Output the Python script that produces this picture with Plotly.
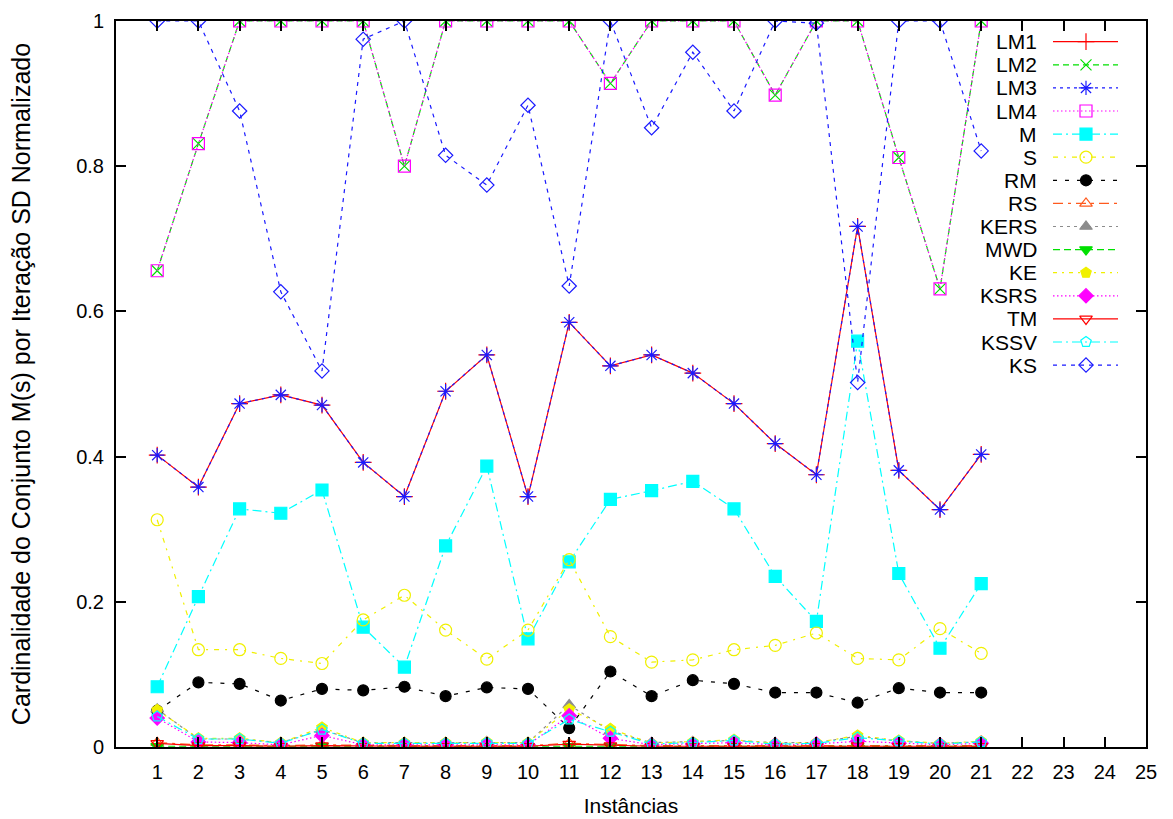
import plotly.graph_objects as go

# Instance indices (x axis)
instancias = list(range(1, 22))

# Normalised cardinality of M(s) per SD iteration, one list per method
LM1 = [0.402, 0.358, 0.473, 0.485, 0.471, 0.392, 0.345, 0.490, 0.540, 0.345, 0.585,
       0.525, 0.540, 0.515, 0.473, 0.418, 0.375, 0.717, 0.381, 0.327, 0.403]
LM2 = [0.656, 0.831, 1.0, 1.0, 1.0, 1.0, 0.800, 1.0, 1.0, 1.0, 1.0,
       0.914, 1.0, 1.0, 1.0, 0.898, 1.0, 1.0, 0.812, 0.631, 1.0]
LM3 = [0.402, 0.358, 0.473, 0.485, 0.471, 0.392, 0.345, 0.490, 0.540, 0.345, 0.585,
       0.525, 0.540, 0.515, 0.473, 0.418, 0.375, 0.717, 0.381, 0.327, 0.403]
LM4 = [0.656, 0.831, 1.0, 1.0, 1.0, 1.0, 0.800, 1.0, 1.0, 1.0, 1.0,
       0.914, 1.0, 1.0, 1.0, 0.898, 1.0, 1.0, 0.812, 0.631, 1.0]
M = [0.083, 0.207, 0.328, 0.322, 0.354, 0.165, 0.110, 0.277, 0.387, 0.149, 0.255,
     0.341, 0.353, 0.366, 0.328, 0.235, 0.173, 0.559, 0.239, 0.136, 0.225]
S = [0.313, 0.134, 0.134, 0.122, 0.115, 0.175, 0.209, 0.161, 0.121, 0.161, 0.258,
     0.152, 0.117, 0.120, 0.134, 0.140, 0.157, 0.122, 0.120, 0.163, 0.129]
RM = [0.050, 0.089, 0.087, 0.064, 0.080, 0.078, 0.083, 0.070, 0.082, 0.080, 0.026,
      0.104, 0.070, 0.092, 0.087, 0.075, 0.075, 0.061, 0.081, 0.075, 0.075]
RS = [0.006, 0.003, 0.003, 0.002, 0.003, 0.002, 0.002, 0.002, 0.002, 0.002, 0.005,
      0.003, 0.002, 0.002, 0.002, 0.002, 0.002, 0.003, 0.002, 0.002, 0.002]
KERS = [0.052, 0.011, 0.011, 0.006, 0.024, 0.006, 0.006, 0.006, 0.007, 0.006, 0.058,
        0.022, 0.006, 0.007, 0.009, 0.006, 0.006, 0.015, 0.008, 0.005, 0.007]
MWD = [0.001, 0.001, 0.001, 0.001, 0.001, 0.001, 0.001, 0.001, 0.001, 0.001, 0.001,
       0.001, 0.001, 0.001, 0.001, 0.001, 0.001, 0.001, 0.001, 0.001, 0.001]
KE = [0.051, 0.012, 0.012, 0.006, 0.027, 0.006, 0.006, 0.006, 0.007, 0.006, 0.052,
      0.025, 0.005, 0.007, 0.010, 0.005, 0.006, 0.016, 0.009, 0.005, 0.008]
KSRS = [0.040, 0.007, 0.006, 0.003, 0.016, 0.003, 0.003, 0.003, 0.004, 0.003, 0.043,
        0.012, 0.003, 0.004, 0.006, 0.003, 0.004, 0.008, 0.005, 0.003, 0.005]
TM = [0.005, 0.002, 0.002, 0.001, 0.002, 0.001, 0.001, 0.001, 0.001, 0.001, 0.004,
      0.002, 0.001, 0.001, 0.001, 0.001, 0.001, 0.002, 0.001, 0.001, 0.001]
KSSV = [0.042, 0.011, 0.011, 0.005, 0.024, 0.005, 0.005, 0.005, 0.006, 0.005, 0.038,
        0.021, 0.004, 0.006, 0.009, 0.004, 0.005, 0.013, 0.008, 0.004, 0.007]
KS = [1.0, 1.0, 0.876, 0.627, 0.518, 0.975, 1.0, 0.815, 0.774, 0.884, 0.635,
      1.0, 0.853, 0.957, 0.876, 1.0, 0.997, 0.502, 1.0, 1.0, 0.821]

x_ticks = list(range(1, 26))
y_ticks = [0, 0.2, 0.4, 0.6, 0.8, 1]
y_tick_text = ["0", "0.2", "0.4", "0.6", "0.8", "1"]

# name, values, colour, dash, marker symbol, marker size
series = [
    ("LM1", LM1, "#ff0000", "solid", "cross-thin-open", 12),
    ("LM2", LM2, "#00e000", "6px,4px", "x-thin-open", 11),
    ("LM3", LM3, "#1a1aff", "3px,4px", "asterisk-open", 12),
    ("LM4", LM4, "#ff00ff", "1.5px,2.5px", "square-open", 12),
    ("M", M, "#00ffff", "9px,4px,2px,4px", "square", 12),
    ("S", S, "#f0f000", "5px,6px,2px,6px", "circle-open", 12),
    ("RM", RM, "#000000", "4px,8px", "circle", 11),
    ("RS", RS, "#ff5a1e", "10px,5px,3px,5px", "triangle-up-open", 11),
    ("KERS", KERS, "#8c8c8c", "3px,4px", "triangle-up", 11),
    ("MWD", MWD, "#00e000", "7px,4px", "triangle-down", 11),
    ("KE", KE, "#f0f000", "4px,5px,2px,5px", "pentagon", 11),
    ("KSRS", KSRS, "#ff00ff", "1.5px,2.5px", "diamond", 11),
    ("TM", TM, "#ff0000", "solid", "triangle-down-open", 11),
    ("KSSV", KSSV, "#00ffff", "9px,4px,2px,4px", "pentagon-open", 11),
    ("KS", KS, "#1a1aff", "4px,5px", "diamond-open", 11),
]

fig = go.Figure()

for name, vals, color, dash, sym, size in series:
    fig.add_trace(go.Scatter(
        x=instancias, y=vals, name=name, mode="lines+markers",
        line=dict(color=color, width=1.2, dash=dash),
        marker=dict(symbol=sym, size=size, color=color,
                    line=dict(color=color, width=1.2)),
        showlegend=False,
    ))

# Key drawn inside the upper right corner: label on the left, sample on the right
key_top = 41.7
key_step = 23.1
for i, (name, vals, color, dash, sym, size) in enumerate(series):
    yk = key_top + i * key_step
    fig.add_trace(go.Scatter(
        x=[1053, 1118], y=[yk, yk], xaxis="x2", yaxis="y2", mode="lines",
        line=dict(color=color, width=1.2, dash=dash),
        showlegend=False, hoverinfo="skip",
    ))
    fig.add_trace(go.Scatter(
        x=[1086], y=[yk], xaxis="x2", yaxis="y2", mode="markers",
        marker=dict(symbol=sym, size=size, color=color,
                    line=dict(color=color, width=1.2)),
        showlegend=False, hoverinfo="skip",
    ))
    fig.add_annotation(
        x=1039, y=yk, xref="x2", yref="y2", text=name, showarrow=False,
        xanchor="right", yanchor="middle",
        font=dict(family="Liberation Sans, Arial, sans-serif", size=21, color="#000"),
    )

axis_font = dict(family="Liberation Sans, Arial, sans-serif", size=20, color="#000")

fig.update_layout(
    width=1173, height=819,
    margin=dict(l=116, r=27, t=21, b=72),
    paper_bgcolor="white", plot_bgcolor="white",
    font=axis_font,
    xaxis=dict(
        range=[0, 25], tickvals=x_ticks, ticktext=[str(v) for v in x_ticks],
        ticks="inside", ticklen=10, tickwidth=1.5, tickcolor="#000",
        showline=True, linecolor="#000", linewidth=2, mirror="ticks",
        showgrid=False, zeroline=False, ticklabelstandoff=6, automargin=False,
        title=dict(text="Instâncias", font=dict(size=21), standoff=16),
    ),
    yaxis=dict(
        range=[0, 1], tickvals=y_ticks, ticktext=y_tick_text,
        ticks="inside", ticklen=10, tickwidth=1.5, tickcolor="#000",
        showline=True, linecolor="#000", linewidth=2, mirror="ticks",
        showgrid=False, zeroline=False, ticklabelstandoff=6, automargin=False,
        title=dict(text="Cardinalidade do Conjunto M(s) por Iteração SD Normalizado",
                   font=dict(size=25), standoff=38),
    ),
    xaxis2=dict(range=[116, 1146], overlaying="x", visible=False, fixedrange=True),
    yaxis2=dict(range=[747, 21], overlaying="y", visible=False, fixedrange=True),
)

fig.write_html("out.html")
